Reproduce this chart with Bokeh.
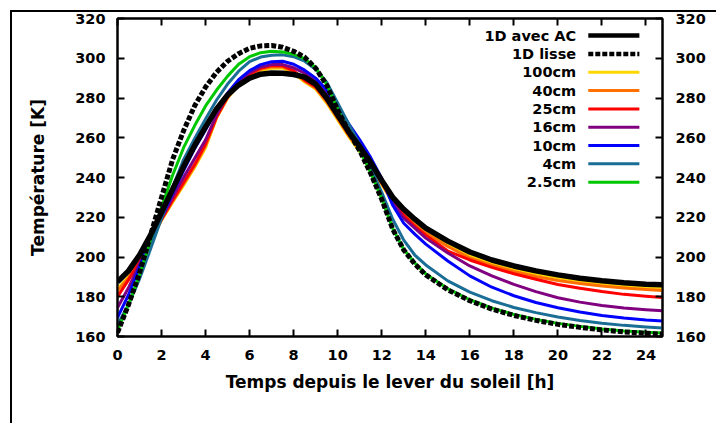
from bokeh.plotting import figure
from bokeh.models import LinearAxis, Range1d, FixedTicker
from bokeh.embed import file_html
from bokeh.resources import INLINE
from bokeh.core.properties import value

hours = [0, 0.5, 1, 1.5, 2, 2.5, 3, 3.5, 4, 4.5, 5, 5.5, 6, 6.5, 7, 7.5, 8, 8.5,
         9, 9.5, 10, 10.5, 11, 11.5, 12, 12.5, 13, 13.5, 14, 15, 16, 17, 18, 19,
         20, 21, 22, 23, 24, 24.75]

t_1d_ac = [187.5, 193, 201, 211, 222.5, 234, 245.5, 256, 265.5, 274.5, 281.5, 286.5, 290, 292, 292.6, 292.5, 291.8, 290.5,
           287, 280, 271.5, 263, 255.5, 247.5, 238.5, 230, 224, 219, 214.5, 208, 202.5, 198.5, 195.5, 193,
           191, 189.3, 188, 187, 186.3, 186]
t_1d_lisse = [162, 176, 192, 211, 230, 249, 263.5, 276, 285.5, 293, 298.5, 302.3, 305, 306.2, 306.4, 305.5, 303.5, 300.5,
              295, 286.5, 274, 263, 253.5, 242, 229, 214, 203.5, 196.5, 191, 183.5, 178, 173.8, 170.6, 168.1,
              166.1, 164.6, 163.3, 162.3, 161.6, 161.2]
t_100cm = [184, 190, 198, 208, 218.5, 227.5, 236, 245, 255, 270, 280, 286.5, 291, 293.8, 295, 295, 292.5, 288,
           284.5, 277.5, 269, 260.5, 253, 245, 236.5, 227.5, 221.8, 217, 212.5, 206, 200.5, 197, 194, 191.5,
           189.5, 188, 186.7, 185.7, 184.9, 184.4]
t_40cm = [183, 189.5, 198, 208, 218.8, 228, 236.7, 245.7, 256, 270.2, 280.2, 286.9, 291.5, 294.4, 295.7, 295.6, 293.2, 288.5,
          285, 278.1, 269.6, 261.1, 253.6, 245.6, 237, 227.8, 221.5, 216.5, 212, 205.3, 199.5, 195.8, 192.7, 190.2,
          188.2, 186.7, 185.4, 184.4, 183.6, 183.1]
t_25cm = [180, 188.5, 197.5, 208, 219, 228.5, 237.5, 246.5, 257, 270.5, 280.5, 287.3, 292, 295, 296.3, 296.2, 293.8, 289,
          285.5, 278.8, 270.3, 261.8, 254.3, 246.3, 237.5, 228, 221, 215.5, 211, 203, 198.5, 194.8, 191.6, 188.8,
          186.2, 184.3, 182.6, 181.2, 180.2, 179.6]
t_16cm = [174.5, 184.5, 196.5, 208, 219.5, 230, 240, 249.5, 259, 271.5, 281.5, 288.2, 292.8, 295.6, 296.8, 296.8, 295.2, 292.5,
          288.5, 282.5, 274, 265.5, 257.5, 248.5, 238.5, 227.5, 219.5, 214.5, 209.5, 202, 195.5, 190.5, 186.2, 182.6,
          179.5, 177.3, 175.6, 174.3, 173.4, 172.9]
t_10cm = [169.5, 181, 195, 208, 220, 232, 243.5, 254.5, 264, 274, 282.5, 289.2, 293.8, 296.8, 298.2, 298.5, 297, 294,
          290, 284, 275.5, 267, 259, 250, 239.5, 226, 217, 211.5, 206.5, 198, 190.5, 184.8, 180.5, 177.1,
          174.5, 172.3, 170.6, 169.3, 168.3, 167.8]
t_4cm = [166, 176, 189, 204, 219.5, 235, 249, 259.5, 269.5, 279, 287, 293.5, 298.3, 300.6, 301.5, 301.7, 300.8, 298.5,
         294.5, 288, 277.5, 267, 256.5, 245, 232.5, 219, 208.5, 201, 196, 188, 182.3, 178, 174.6, 172,
         169.8, 168.1, 166.7, 165.6, 164.8, 164.3]
t_2_5cm = [163, 176, 191, 208.5, 225, 241, 255, 266, 276, 284, 291, 297, 300.8, 302.8, 303.5, 303.2, 302, 299.8,
           295.3, 286.8, 274.3, 263.3, 253.8, 242.3, 229.3, 214.3, 203.8, 197, 191.5, 184, 178.5, 174.3, 171.1, 168.6,
           166.6, 165.1, 163.8, 162.8, 162.1, 161.7]

x_ticks = [0, 2, 4, 6, 8, 10, 12, 14, 16, 18, 20, 22, 24]
y_ticks = [160, 180, 200, 220, 240, 260, 280, 300, 320]

legend_labels = ["1D avec AC", "1D lisse", "100cm", "40cm", "25cm", "16cm", "10cm", "4cm", "2.5cm"]
colors = ["black", "black", "#ffd700", "#ff7000", "#ff0000", "#800080", "#0000ff", "#1a6e96", "#00c800"]
all_series = [t_1d_ac, t_1d_lisse, t_100cm, t_40cm, t_25cm, t_16cm, t_10cm, t_4cm, t_2_5cm]
widths = [5.5, 5, 3, 3, 3, 3, 3, 3, 3]
dashes = ["solid", "5 2", "solid", "solid", "solid", "solid", "solid", "solid", "solid"]

# legend layout (positions in plot space)
LEG_TEXT_X = 20.83
LEG_LINE_X0 = 21.38
LEG_LINE_X1 = 23.70
LEG_TOP = 311.4
LEG_STEP = 9.22

FONT = "DejaVu Sans"

p = figure(width=706, height=413, x_range=Range1d(0, 24.75), y_range=Range1d(160, 320),
           output_backend="svg", toolbar_location=None,
           min_border_left=105, min_border_right=56, min_border_top=6, min_border_bottom=89)
p.xgrid.visible = False
p.ygrid.visible = False
p.outline_line_color = "black"
p.outline_line_width = 2
p.background_fill_color = "white"
p.border_fill_color = "white"


def style_axis(ax, ticks, show_labels=True):
    ax.ticker = FixedTicker(ticks=ticks)
    ax.major_tick_in = 7
    ax.major_tick_out = 0
    ax.minor_tick_line_color = None
    ax.major_tick_line_width = 2
    ax.axis_line_width = 2
    ax.major_label_text_font = FONT
    ax.major_label_text_font_style = "bold"
    ax.major_label_text_font_size = "14.5px"
    ax.major_label_text_color = "black"
    ax.major_label_standoff = 12
    if not show_labels:
        ax.major_label_overrides = {t: "" for t in ticks}
        ax.major_label_standoff = 0


style_axis(p.xaxis[0], x_ticks)
style_axis(p.yaxis[0], y_ticks)
p.xaxis[0].major_label_standoff = 13
p.xaxis[0].axis_label = "Temps depuis le lever du soleil [h]"
p.yaxis[0].axis_label = "Température [K]"
for ax in (p.xaxis[0], p.yaxis[0]):
    ax.axis_label_text_font = FONT
    ax.axis_label_text_font_style = "bold"
    ax.axis_label_text_font_size = "17px"
    ax.axis_label_text_color = "black"
p.xaxis[0].axis_label_standoff = 9
p.yaxis[0].axis_label_standoff = 24

right = LinearAxis()
style_axis(right, y_ticks)
right.major_label_standoff = 13
p.add_layout(right, "right")
top = LinearAxis()
style_axis(top, x_ticks, show_labels=False)
p.add_layout(top, "above")

# colored series first, black ones on top
order = [2, 3, 4, 5, 6, 7, 8, 1, 0]
for i in order:
    p.line(hours, all_series[i], line_color=colors[i], line_width=widths[i],
           line_dash=dashes[i], line_join="round")

for k, lab in enumerate(legend_labels):
    yy = LEG_TOP - k * LEG_STEP
    p.text(x=[LEG_TEXT_X], y=[yy], text=[lab], text_align="right", text_baseline="middle",
           text_font=value(FONT), text_font_style="bold", text_font_size="14.5px", text_color="black")
    p.line([LEG_LINE_X0, LEG_LINE_X1], [yy, yy], line_color=colors[k],
           line_width=(4.5 if k < 2 else 3), line_dash=dashes[k])

p.styles = {"border-top": "2px solid black", "border-left": "2px solid black",
            "margin-left": "10px", "margin-top": "10px"}

open("out.html", "w").write(file_html(p, INLINE))
